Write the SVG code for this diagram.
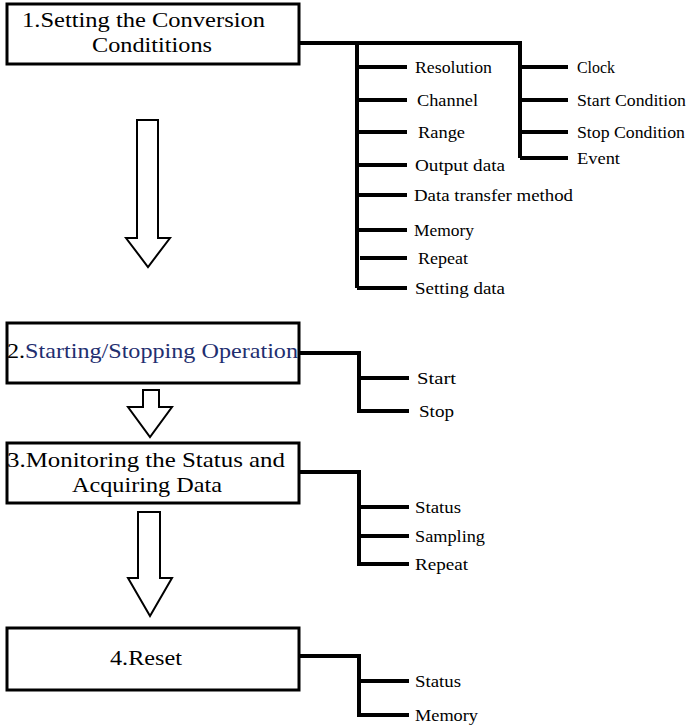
<svg xmlns="http://www.w3.org/2000/svg" width="693" height="725" viewBox="0 0 693 725">
<style>
.box{fill:#fff;stroke:#000;stroke-width:3}
.con{fill:none;stroke:#000;stroke-width:4}
.arr{fill:#fff;stroke:#000;stroke-width:2}
</style>
<rect width="693" height="725" fill="#fff"/>
<g id="connectors">
<path class="con" d="M300,43 H520 V158 M357,43 V288 M357,67 H407 M357,100 H407 M357,132 H407 M357,165 H407 M357,195 H407 M357,230 H407 M360,258 H407 M357,288 H407 M520,67 H568 M520,100 H568 M520,132 H568 M520,158 H568"/>
<path class="con" d="M300,353 H359 V411 H409 M359,378 H409"/>
<path class="con" d="M300,472 H359 V564 H409 M359,507 H409 M359,536 H409"/>
<path class="con" d="M300,656 H359 V715 H409 M359,681 H409"/>
<path class="arr" d="M137,120 H158 V238 H170 L148,267 L126,238 H137 Z"/>
<path class="arr" d="M143,390 H159 V407 H172 L150,437 L128,407 H143 Z"/>
<path class="arr" d="M138,512 H160 V578 H172 L150,616 L128,578 H138 Z"/>
</g>
<g font-family="Liberation Serif" font-size="22" fill="#000">
<g id="node1">
<rect class="box" x="7" y="4" width="292" height="60"/>
<text x="22" y="27" textLength="243" lengthAdjust="spacingAndGlyphs">1.Setting the Conversion</text>
<text x="92" y="52" textLength="120" lengthAdjust="spacingAndGlyphs">Condititions</text>
</g>
<g id="node2">
<rect class="box" x="7" y="323" width="292" height="60"/>
<text x="7" y="358" textLength="291" lengthAdjust="spacingAndGlyphs">2.<tspan fill="#1f2f70">Starting/Stopping Operation</tspan></text>
</g>
<g id="node3">
<rect class="box" x="7" y="443" width="292" height="60"/>
<text x="7" y="467" textLength="278" lengthAdjust="spacingAndGlyphs">3.Monitoring the Status and</text>
<text x="72" y="492" textLength="150" lengthAdjust="spacingAndGlyphs">Acquiring Data</text>
</g>
<g id="node4">
<rect class="box" x="7" y="628" width="292" height="62"/>
<text x="110" y="665" textLength="72" lengthAdjust="spacingAndGlyphs">4.Reset</text>
</g>
</g>
<g font-family="Liberation Serif" font-size="17" fill="#000">
<g id="labels1">
<text x="415" y="73" textLength="77" lengthAdjust="spacingAndGlyphs">Resolution</text>
<text x="417" y="106" textLength="61" lengthAdjust="spacingAndGlyphs">Channel</text>
<text x="418" y="138" textLength="47" lengthAdjust="spacingAndGlyphs">Range</text>
<text x="415" y="171" textLength="90" lengthAdjust="spacingAndGlyphs">Output data</text>
<text x="414" y="201" textLength="159" lengthAdjust="spacingAndGlyphs">Data transfer method</text>
<text x="414" y="236" textLength="60" lengthAdjust="spacingAndGlyphs">Memory</text>
<text x="418" y="264" textLength="50" lengthAdjust="spacingAndGlyphs">Repeat</text>
<text x="415" y="294" textLength="90" lengthAdjust="spacingAndGlyphs">Setting data</text>
<text x="577" y="73" textLength="38" lengthAdjust="spacingAndGlyphs">Clock</text>
<text x="577" y="106" textLength="109" lengthAdjust="spacingAndGlyphs">Start Condition</text>
<text x="577" y="138" textLength="108" lengthAdjust="spacingAndGlyphs">Stop Condition</text>
<text x="577" y="164" textLength="43" lengthAdjust="spacingAndGlyphs">Event</text>
</g>
<g id="labels2">
<text x="417" y="384" textLength="39" lengthAdjust="spacingAndGlyphs">Start</text>
<text x="419" y="417" textLength="35" lengthAdjust="spacingAndGlyphs">Stop</text>
</g>
<g id="labels3">
<text x="415" y="513" textLength="46" lengthAdjust="spacingAndGlyphs">Status</text>
<text x="415" y="542" textLength="70" lengthAdjust="spacingAndGlyphs">Sampling</text>
<text x="415" y="570" textLength="53" lengthAdjust="spacingAndGlyphs">Repeat</text>
</g>
<g id="labels4">
<text x="415" y="687" textLength="46" lengthAdjust="spacingAndGlyphs">Status</text>
<text x="415" y="721" textLength="63" lengthAdjust="spacingAndGlyphs">Memory</text>
</g>
</g>
</svg>
